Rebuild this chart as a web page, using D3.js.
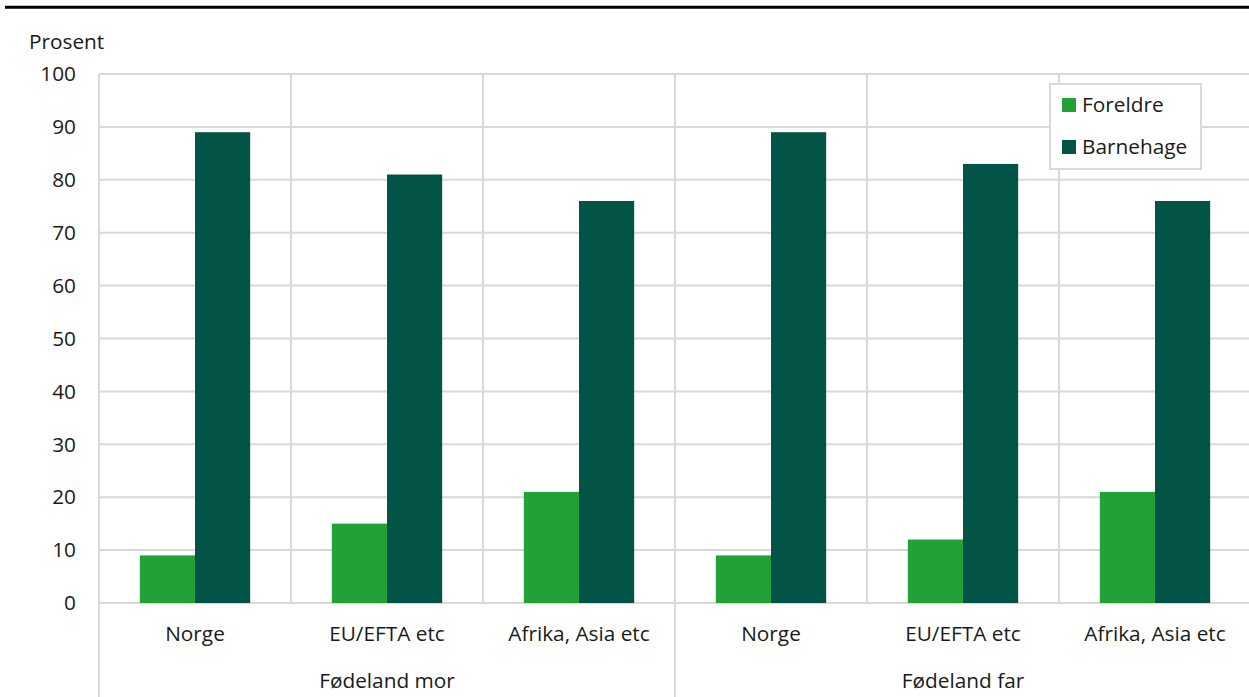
<!DOCTYPE html>
<html>
<head>
<meta charset="utf-8">
<script src="https://cdn.jsdelivr.net/npm/d3@7"></script>
<style>
  html, body { margin: 0; padding: 0; background: #fff; }
  svg text { font-family: "Open Sans", sans-serif; fill: #1a1a1a; }
</style>
</head>
<body>
<svg id="chart" width="1249" height="697"></svg>
<script>
const groups = ["Fødeland mor", "Fødeland far"];
const categories = ["Norge", "EU/EFTA etc", "Afrika, Asia etc"];
const seriesNames = ["Foreldre", "Barnehage"];
const foreldre = [9, 15, 21, 9, 12, 21];
const barnehage = [89, 81, 76, 89, 83, 76];
const yTicks = [0, 10, 20, 30, 40, 50, 60, 70, 80, 90, 100];
const yLabel = "Prosent";
const colors = ["#22a139", "#035446"];

(function () {
const svg = d3.select("#chart");
const W = 1249, H = 697;
const pLeft = 99, pRight = 1251, pTop = 74, pBottom = 603;
const fontSize = 20.8;
const grid = "#d9d9d9";

const keys = [];
groups.forEach((g, gi) => categories.forEach((c, ci) => keys.push({ g, c, gi, idx: gi * categories.length + ci })));
const series = [foreldre, barnehage];

const x = d3.scaleBand().domain(keys.map(k => k.idx)).range([pLeft, pRight]).padding(0);
const xg = d3.scaleBand().domain(groups).range([pLeft, pRight]).padding(0);
const xs = d3.scaleBand().domain(seriesNames).range([0, x.bandwidth()]).paddingInner(0).paddingOuter(0.74);
const y = d3.scaleLinear().domain([0, 100]).range([pBottom, pTop]);

svg.append("line").attr("x1", 5).attr("x2", W).attr("y1", 7.3).attr("y2", 7.3)
  .attr("stroke", "#000").attr("stroke-width", 3);

svg.append("g").selectAll("line").data(yTicks).join("line")
  .attr("x1", pLeft).attr("x2", W)
  .attr("y1", d => y(d)).attr("y2", d => y(d))
  .attr("stroke", grid).attr("stroke-width", 2);

const boundaries = d3.range(keys.length + 1).map(i => pLeft + i * x.step());
svg.append("g").selectAll("line").data(boundaries).join("line")
  .attr("x1", d => d).attr("x2", d => d)
  .attr("y1", pTop).attr("y2", (d, i) => (i % categories.length === 0) ? H : pBottom)
  .attr("stroke", grid).attr("stroke-width", 2);

svg.append("g").selectAll("text").data(yTicks).join("text")
  .attr("x", 76).attr("y", d => y(d))
  .attr("dy", "0.35em").attr("text-anchor", "end")
  .style("font-size", fontSize + "px")
  .text(d => d);

svg.append("text").attr("x", 29).attr("y", 42).attr("dy", "0.35em")
  .style("font-size", fontSize + "px").text(yLabel);

seriesNames.forEach((s, si) => {
  svg.append("g").selectAll("rect").data(keys).join("rect")
    .attr("x", k => x(k.idx) + xs(s))
    .attr("width", xs.bandwidth())
    .attr("y", k => y(series[si][k.idx]))
    .attr("height", k => y(0) - y(series[si][k.idx]))
    .attr("fill", colors[si]);
});

svg.append("g").selectAll("text").data(keys).join("text")
  .attr("x", k => x(k.idx) + x.bandwidth() / 2)
  .attr("y", 634).attr("dy", "0.35em").attr("text-anchor", "middle")
  .style("font-size", fontSize + "px")
  .text(k => k.c);

svg.append("g").selectAll("text").data(groups).join("text")
  .attr("x", g => xg(g) + xg.bandwidth() / 2)
  .attr("y", 681).attr("dy", "0.35em").attr("text-anchor", "middle")
  .style("font-size", fontSize + "px")
  .text(g => g);

const lg = svg.append("g");
lg.append("rect").attr("x", 1050).attr("y", 84).attr("width", 151).attr("height", 85)
  .attr("fill", "#fff").attr("stroke", grid).attr("stroke-width", 2);
seriesNames.forEach((s, i) => {
  const cy = 105 + i * 42;
  lg.append("rect").attr("x", 1062).attr("y", cy - 7).attr("width", 14).attr("height", 14)
    .attr("fill", colors[i]);
  lg.append("text").attr("x", 1082).attr("y", cy).attr("dy", "0.35em")
    .style("font-size", fontSize + "px").text(s);
});
})();
</script>
</body>
</html>
